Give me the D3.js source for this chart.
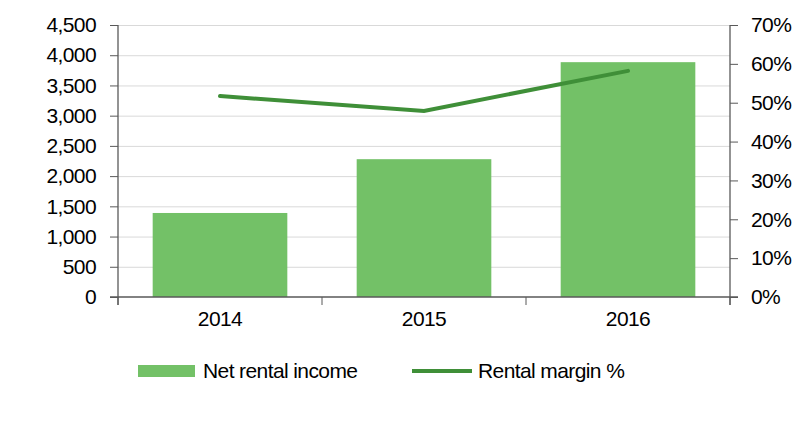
<!DOCTYPE html>
<html><head><meta charset="utf-8">
<script src="https://cdn.jsdelivr.net/npm/d3@7"></script>
<style>
body{margin:0;background:#fff;}
text{font-family:"Liberation Sans",Arial,sans-serif;fill:#000;letter-spacing:-0.6px;}
</style></head>
<body><svg id="c" width="800" height="443"></svg>
<script>
const categories = ["2014","2015","2016"];
const netRentalIncome = [1390, 2280, 3885];
const rentalMargin = [0.517, 0.479, 0.582];
const leftTicks = [0,500,1000,1500,2000,2500,3000,3500,4000,4500];
const rightTicks = [0,0.1,0.2,0.3,0.4,0.5,0.6,0.7];
const seriesNames = ["Net rental income","Rental margin %"];

const svg = d3.select("#c");
const L = 118, R = 730, T = 25, B = 297;
const FS = 21;
const x = d3.scaleBand().domain(categories).range([L,R]).paddingInner(0.34).paddingOuter(0.17);
const xb = d3.scaleBand().domain(categories).range([L,R]);
const y = d3.scaleLinear().domain([0,4500]).range([B,T]);
const y2 = d3.scaleLinear().domain([0,0.7]).range([B,T]);
const barColor = "#73c167", lineColor = "#3f8f38", axisColor = "#595959";

// gridlines
svg.append("g").selectAll("line").data(leftTicks.filter(d=>d>0)).join("line")
  .attr("x1",L).attr("x2",R).attr("y1",d=>y(d)+0.5).attr("y2",d=>y(d)+0.5)
  .attr("stroke","#d9d9d9").attr("stroke-width",1);

// bars
svg.append("g").selectAll("rect").data(categories).join("rect")
  .attr("x",d=>x(d)).attr("width",x.bandwidth())
  .attr("y",(d,i)=>y(netRentalIncome[i])).attr("height",(d,i)=>B-y(netRentalIncome[i]))
  .attr("fill",barColor);

// line
const line = d3.line().x((d,i)=>xb(categories[i])+xb.bandwidth()/2).y(d=>y2(d));
svg.append("path").datum(rentalMargin).attr("d",line)
  .attr("fill","none").attr("stroke",lineColor).attr("stroke-width",4).attr("stroke-linecap","round");

// left axis
const ya = d3.axisLeft(y).tickValues(leftTicks).tickSize(8).tickPadding(14).tickFormat(d3.format(","));
const gL = svg.append("g").attr("transform",`translate(${L},0)`).call(ya);
// right axis
const ya2 = d3.axisRight(y2).tickValues(rightTicks).tickSize(8).tickPadding(13).tickFormat(d3.format(".0%"));
const gR = svg.append("g").attr("transform",`translate(${R},0)`).call(ya2);
// x axis
const xa = d3.axisBottom(xb).tickSize(0).tickPadding(14);
const gX = svg.append("g").attr("transform",`translate(0,${B})`).call(xa);
// x ticks between categories
svg.append("g").selectAll("line").data(d3.range(categories.length+1)).join("line")
  .attr("x1",i=>L+i*xb.step()).attr("x2",i=>L+i*xb.step())
  .attr("y1",B).attr("y2",B+8).attr("stroke",axisColor);

[gL,gR,gX].forEach(g=>{
  g.select(".domain").attr("stroke",axisColor).attr("stroke-width",1.3);
  g.selectAll(".tick line").attr("stroke",axisColor);
  g.selectAll("text").attr("font-size",FS).attr("font-family","'Liberation Sans',Arial,sans-serif").attr("fill","#000");
});
gL.select(".domain").attr("d",`M0,${T}V${B+8}`);
gR.select(".domain").attr("d",`M0,${T}V${B+8}`);
gX.select(".domain").attr("d",`M${L-8},0H${R+8}`);

// legend
const lg = svg.append("g");
lg.append("rect").attr("x",138).attr("y",365).attr("width",57).attr("height",12).attr("fill",barColor);
lg.append("text").attr("x",203).attr("y",371).attr("dy","0.35em").attr("font-size",FS).text(seriesNames[0]);
lg.append("line").attr("x1",412).attr("x2",472).attr("y1",371).attr("y2",371).attr("stroke",lineColor).attr("stroke-width",4);
lg.append("text").attr("x",478).attr("y",371).attr("dy","0.35em").attr("font-size",FS).text(seriesNames[1]);
</script></body></html>
